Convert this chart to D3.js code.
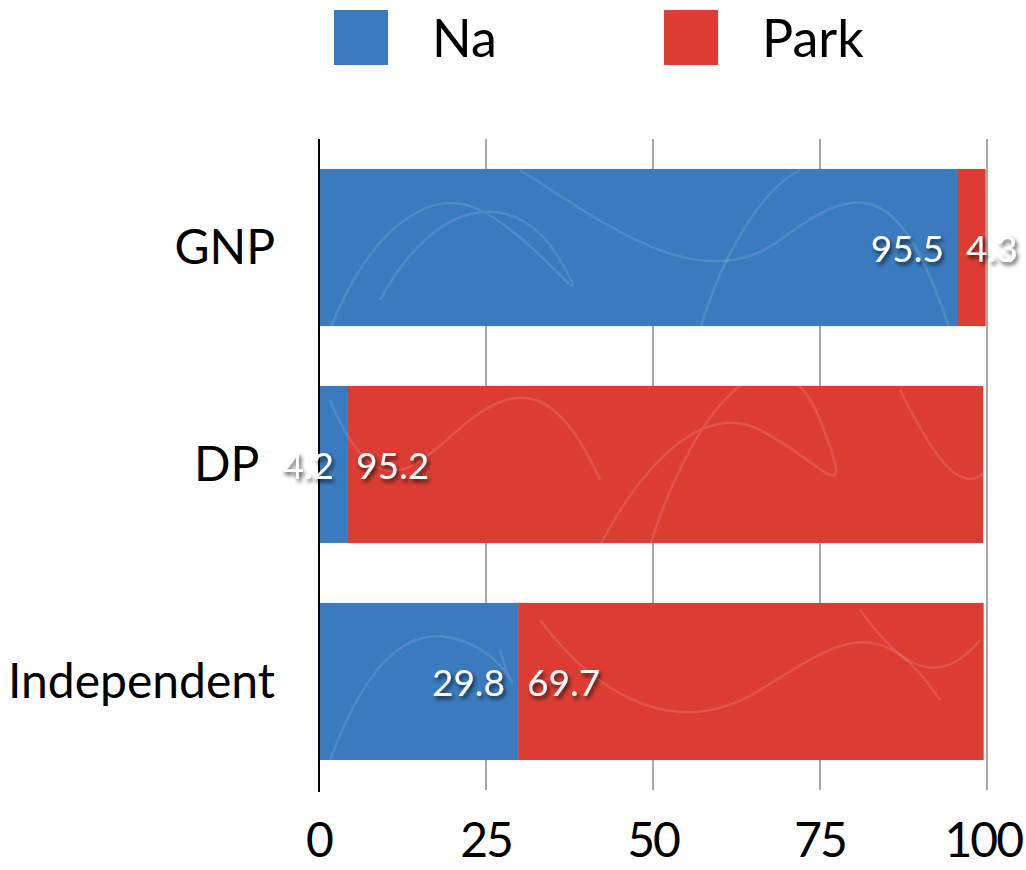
<!DOCTYPE html>
<html><head><meta charset="utf-8">
<script src="https://cdn.jsdelivr.net/npm/d3@7"></script>
<style>body{margin:0;background:#fff}svg{display:block}text{font-family:Lato,"Open Sans",sans-serif}</style>
</head><body><svg id="c" width="1026" height="870"></svg>
<script>
const categories = ["GNP", "DP", "Independent"];
const seriesNames = ["Na", "Park"];
const naValues = [95.5, 4.2, 29.8];
const parkValues = [4.3, 95.2, 69.7];
const tickValues = [0, 25, 50, 75, 100];
const colors = ["#3a7bbf", "#dc3d33"];

const svg = d3.select("#c");
const x = d3.scaleLinear().domain([0, 100]).range([319, 987]);
const y = d3.scaleBand().domain(categories).range([139, 790]).paddingInner(0.276).paddingOuter(0.138);

const defs = svg.append("defs");
const f = defs.append("filter").attr("id", "sh").attr("x", "-20%").attr("y", "-20%").attr("width", "140%").attr("height", "160%");
f.append("feDropShadow").attr("dx", 2).attr("dy", 3).attr("stdDeviation", 2).attr("flood-color", "#000").attr("flood-opacity", 0.7);

// gridlines
svg.append("g").selectAll("line").data(tickValues.filter(d => d > 0)).join("line")
  .attr("x1", d => x(d)).attr("x2", d => x(d)).attr("y1", 139).attr("y2", 790)
  .attr("stroke", "#a8a8a8").attr("stroke-width", 2);

const rows = categories.map((c, i) => ({ c, vals: [naValues[i], parkValues[i]] }));
const segs = [];
rows.forEach(r => { let acc = 0; r.vals.forEach((v, k) => { segs.push({ c: r.c, k, x0: acc, x1: acc + v, v }); acc += v; }); });

const clip = defs.append("clipPath").attr("id", "barclip");
clip.selectAll("rect").data(segs).join("rect")
  .attr("x", d => x(d.x0)).attr("width", d => x(d.x1) - x(d.x0))
  .attr("y", d => y(d.c)).attr("height", y.bandwidth());

svg.append("g").selectAll("rect").data(segs).join("rect")
  .attr("x", d => x(d.x0)).attr("width", d => x(d.x1) - x(d.x0))
  .attr("y", d => y(d.c)).attr("height", y.bandwidth())
  .attr("fill", d => colors[d.k]);

// faint decorative scribbles
const scrib = svg.append("g").attr("clip-path", "url(#barclip)").attr("fill", "none")
  .attr("stroke", "#fff").attr("stroke-opacity", 0.12).attr("stroke-width", 2.5);
["M330,330 C360,250 420,180 480,210 S600,330 560,260 S440,190 380,300",
 "M520,170 C600,220 700,300 780,240 S900,180 950,330",
 "M700,330 C720,260 760,190 800,170",
 "M330,400 C380,520 420,460 470,420 S560,390 600,480",
 "M600,545 C640,470 700,400 760,430 S860,520 820,420 S700,390 650,545",
 "M900,390 C930,450 960,500 987,470",
 "M330,760 C360,680 400,620 460,640 S520,720 500,650",
 "M540,620 C600,700 680,740 760,690 S880,610 940,700",
 "M860,610 C890,650 930,700 980,640"].forEach(p => scrib.append("path").attr("d", p));

// axis line
svg.append("line").attr("x1", x(0)).attr("x2", x(0)).attr("y1", 139).attr("y2", 792)
  .attr("stroke", "#000").attr("stroke-width", 2);

// tick labels, kept inside the right edge
const tl = svg.append("g").selectAll("text").data(tickValues).join("text")
  .attr("x", d => x(d)).attr("y", 857).attr("text-anchor", "middle")
  .attr("font-size", 48).attr("letter-spacing", -2).attr("fill", "#000").text(d => d);
tl.each(function(d) {
  const w = this.getComputedTextLength();
  if (x(d) + w / 2 > 1022) d3.select(this).attr("x", 1022 - w / 2);
});

// value labels
const vl = svg.append("g").attr("filter", "url(#sh)").selectAll("text").data(segs).join("text")
  .attr("x", d => d.k === 0 ? x(d.x1) - 13 : x(d.x0) + 9)
  .attr("text-anchor", d => d.k === 0 ? "end" : "start")
  .attr("y", d => y(d.c) + y.bandwidth() / 2).attr("dy", "0.38em")
  .attr("font-size", 37).attr("fill", "#fff").text(d => d.v);

// left edge of each row's Na label (to keep category label clear of it)
const naLeft = {};
vl.each(function(d) { if (d.k === 0) naLeft[d.c] = x(d.x1) - 13 - this.getComputedTextLength(); });

// category labels
svg.append("g").selectAll("text").data(categories).join("text")
  .attr("x", d => Math.min(275, naLeft[d] - 23))
  .attr("y", d => y(d) + y.bandwidth() / 2).attr("dy", "0.35em")
  .attr("text-anchor", "end").attr("font-size", 48).attr("fill", "#000").text(d => d);

// legend
const lg = svg.append("g").selectAll("g").data(seriesNames).join("g")
  .attr("transform", (d, i) => `translate(${334 + i * 330},10)`);
lg.append("rect").attr("width", 54).attr("height", 55).attr("fill", (d, i) => colors[i]);
lg.append("text").attr("x", 98).attr("y", 47).attr("font-size", 52).attr("fill", "#000").text(d => d);
</script></body></html>
